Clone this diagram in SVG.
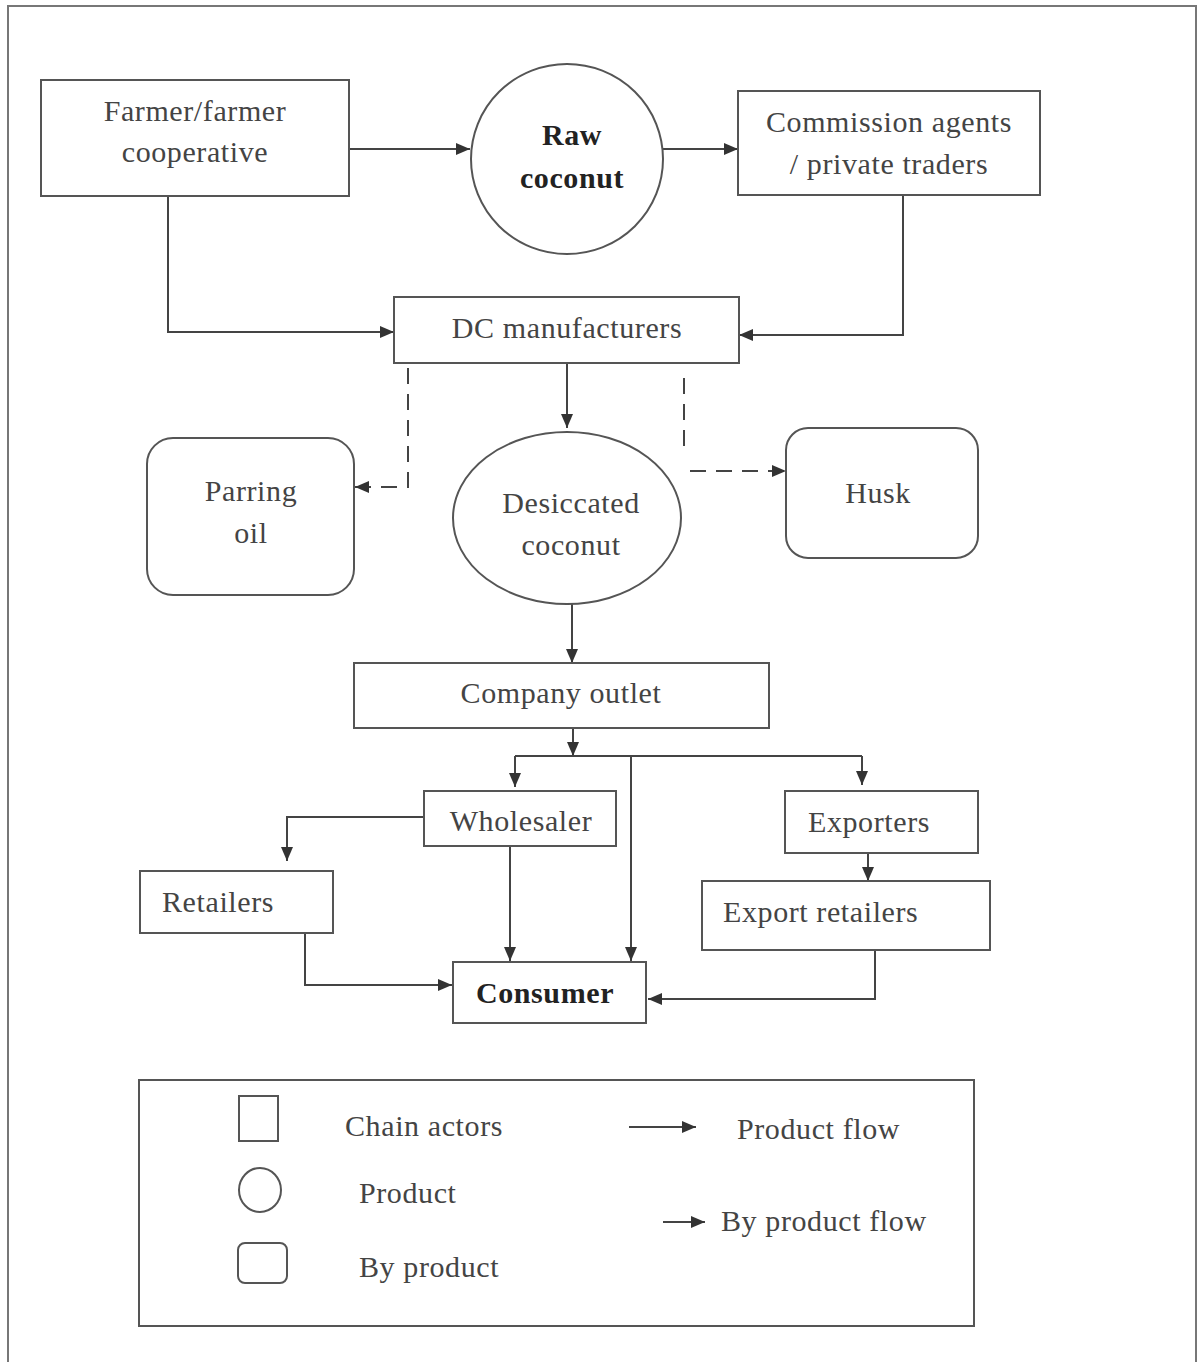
<svg xmlns="http://www.w3.org/2000/svg" width="1200" height="1362" viewBox="0 0 1200 1362">
<defs>
<marker id="ah" markerUnits="userSpaceOnUse" markerWidth="16" markerHeight="14" refX="14" refY="7" orient="auto">
<path d="M0,1 L14,7 L0,13 Z" fill="#333"/>
</marker>
<style>
.box{fill:#fff;stroke:#555;stroke-width:2}
.t{font-family:"Liberation Serif","Times New Roman",serif;font-size:30px;fill:#444;letter-spacing:0.6px}
.m{text-anchor:middle}
.b{font-weight:bold;fill:#222}
.c{fill:none;stroke:#444;stroke-width:2}
.d{stroke-dasharray:16,10}
</style>
</defs>
<rect x="0" y="0" width="1200" height="1362" fill="#fff"/>
<path d="M8,1362 V6 H1196 V1362" fill="none" stroke="#777" stroke-width="2"/>

<g id="connectors">
<path class="c" d="M349,149 H470" marker-end="url(#ah)"/>
<path class="c" d="M663,149 H738" marker-end="url(#ah)"/>
<path class="c" d="M168,196 V332 H394" marker-end="url(#ah)"/>
<path class="c" d="M903,195 V335 H739" marker-end="url(#ah)"/>
<path class="c" d="M567,363 V428" marker-end="url(#ah)"/>
<path class="c d" d="M408,368 V487 H355" marker-end="url(#ah)"/>
<path class="c d" d="M684,378 V446"/>
<path class="c d" d="M690,471 H786" marker-end="url(#ah)"/>
<path class="c" d="M572,604 V663" marker-end="url(#ah)"/>
<path class="c" d="M573,728 V756" marker-end="url(#ah)"/>
<path class="c" d="M515,756 H862"/>
<path class="c" d="M515,756 V787" marker-end="url(#ah)"/>
<path class="c" d="M862,756 V785" marker-end="url(#ah)"/>
<path class="c" d="M631,756 V961" marker-end="url(#ah)"/>
<path class="c" d="M424,817 H287 V861" marker-end="url(#ah)"/>
<path class="c" d="M510,846 V961" marker-end="url(#ah)"/>
<path class="c" d="M305,933 V985 H452" marker-end="url(#ah)"/>
<path class="c" d="M868,853 V881" marker-end="url(#ah)"/>
<path class="c" d="M875,950 V999 H648" marker-end="url(#ah)"/>
</g>

<g id="farmer">
<rect class="box" x="41" y="80" width="308" height="116"/>
<text class="t m" x="195" y="121">Farmer/farmer</text>
<text class="t m" x="195" y="162">cooperative</text>
</g>
<g id="raw-coconut">
<ellipse class="box" cx="567" cy="159" rx="96" ry="95"/>
<text class="t m b" x="572" y="145">Raw</text>
<text class="t m b" x="572" y="188">coconut</text>
</g>
<g id="commission">
<rect class="box" x="738" y="91" width="302" height="104"/>
<text class="t m" x="889" y="132">Commission agents</text>
<text class="t m" x="889" y="174">/ private traders</text>
</g>
<g id="dc-manufacturers">
<rect class="box" x="394" y="297" width="345" height="66"/>
<text class="t m" x="567" y="338">DC manufacturers</text>
</g>
<g id="parring-oil">
<rect class="box" x="147" y="438" width="207" height="157" rx="26"/>
<text class="t m" x="251" y="501">Parring</text>
<text class="t m" x="251" y="543">oil</text>
</g>
<g id="desiccated-coconut">
<ellipse class="box" cx="567" cy="518" rx="114" ry="86"/>
<text class="t m" x="571" y="513">Desiccated</text>
<text class="t m" x="571" y="555">coconut</text>
</g>
<g id="husk">
<rect class="box" x="786" y="428" width="192" height="130" rx="22"/>
<text class="t m" x="878" y="503">Husk</text>
</g>
<g id="company-outlet">
<rect class="box" x="354" y="663" width="415" height="65"/>
<text class="t m" x="561" y="703">Company outlet</text>
</g>
<g id="wholesaler">
<rect class="box" x="424" y="791" width="192" height="55"/>
<text class="t m" x="521" y="831">Wholesaler</text>
</g>
<g id="exporters">
<rect class="box" x="785" y="791" width="193" height="62"/>
<text class="t m" x="869" y="832">Exporters</text>
</g>
<g id="retailers">
<rect class="box" x="140" y="871" width="193" height="62"/>
<text class="t" x="162" y="912">Retailers</text>
</g>
<g id="export-retailers">
<rect class="box" x="702" y="881" width="288" height="69"/>
<text class="t" x="723" y="922">Export retailers</text>
</g>
<g id="consumer">
<rect class="box" x="453" y="962" width="193" height="61"/>
<text class="t m b" x="545" y="1003">Consumer</text>
</g>

<g id="legend">
<rect class="box" x="139" y="1080" width="835" height="246"/>
<rect class="box" x="239" y="1096" width="39" height="45"/>
<text class="t" x="345" y="1136">Chain actors</text>
<ellipse class="box" cx="260" cy="1190" rx="21" ry="22"/>
<text class="t" x="359" y="1203">Product</text>
<rect class="box" x="238" y="1243" width="49" height="40" rx="7"/>
<text class="t" x="359" y="1277">By product</text>
<path class="c" d="M629,1127 H696" marker-end="url(#ah)"/>
<text class="t" x="737" y="1139">Product flow</text>
<path class="c" d="M663,1222 H705" marker-end="url(#ah)"/>
<text class="t" x="721" y="1231">By product flow</text>
</g>
</svg>
